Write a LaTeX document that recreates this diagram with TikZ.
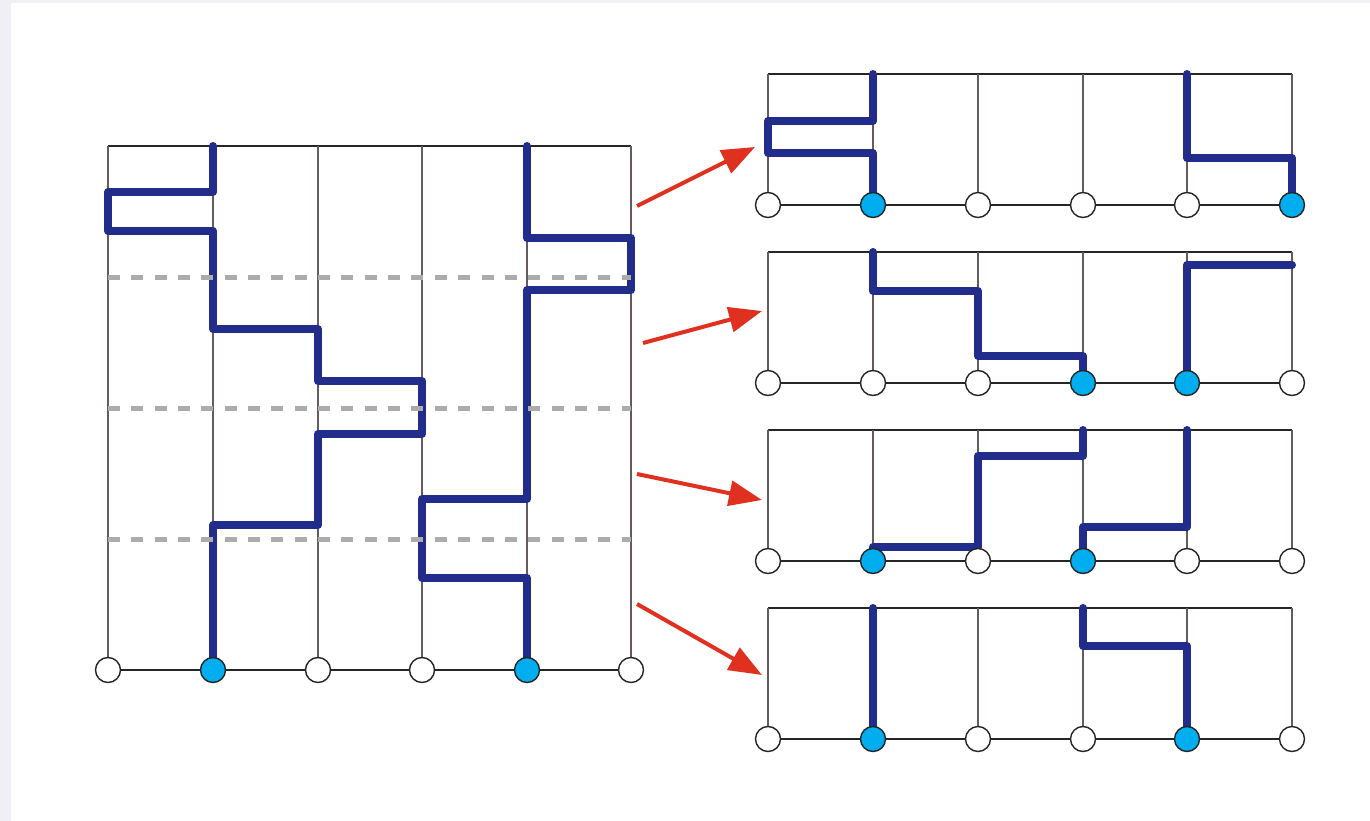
\documentclass[tikz,border=0pt]{standalone}
\usetikzlibrary{arrows.meta}
\definecolor{pathblue}{RGB}{33,44,139}
\definecolor{dotcyan}{RGB}{0,174,239}
\definecolor{arrowred}{RGB}{224,48,32}
\definecolor{rimgrey}{RGB}{239,239,245}
\definecolor{gridgrey}{RGB}{100,92,92}
\pgfdeclarelayer{background}
\pgfsetlayers{background,main}
\tikzset{
    site/.style = {circle, draw=black!85, line width=0.8pt, minimum size=0.5cm, inner sep=0pt, fill=white},
    siteb/.style = {site, fill=dotcyan},
    gridv/.style = {gridgrey, line width=0.7pt},
    gridh/.style = {black!85, line width=0.7pt},
    cut/.style = {gray!65, line width=0.1cm, dash pattern=on 0.24cm off 0.227cm},
    route/.style = {pathblue, line width=0.16cm, line cap=round, line join=round},
    jump/.style = {arrowred, line width=0.08cm, -{Triangle[length=0.66cm,width=0.5cm]}}
}

\begin{document}
\begin{tikzpicture}[x=0.02cm, y=-0.02cm]
%
\useasboundingbox (0,0) rectangle (1370,821);
%
\node[site]  at (108,670) (l0) {};
\node[siteb] at (213,670) (l1) {};
\node[site]  at (318,670) (l2) {};
\node[site]  at (422,670) (l3) {};
\node[siteb] at (527,670) (l4) {};
\node[site]  at (631,670) (l5) {};
%
\node[site]  at (768,205) (a0) {};
\node[siteb] at (873,205) (a1) {};
\node[site]  at (978,205) (a2) {};
\node[site]  at (1083,205) (a3) {};
\node[site]  at (1187,205) (a4) {};
\node[siteb] at (1292,205) (a5) {};
%
\node[site]  at (768,383) (b0) {};
\node[site]  at (873,383) (b1) {};
\node[site]  at (978,383) (b2) {};
\node[siteb] at (1083,383) (b3) {};
\node[siteb] at (1187,383) (b4) {};
\node[site]  at (1292,383) (b5) {};
%
\node[site]  at (768,561) (c0) {};
\node[siteb] at (873,561) (c1) {};
\node[site]  at (978,561) (c2) {};
\node[siteb] at (1083,561) (c3) {};
\node[site]  at (1187,561) (c4) {};
\node[site]  at (1292,561) (c5) {};
%
\node[site]  at (768,739) (d0) {};
\node[siteb] at (873,739) (d1) {};
\node[site]  at (978,739) (d2) {};
\node[site]  at (1083,739) (d3) {};
\node[siteb] at (1187,739) (d4) {};
\node[site]  at (1292,739) (d5) {};
%
\begin{pgfonlayer}{background}
\fill[rimgrey] (0,0) rectangle (1370,821);
\fill[white] (11,3) rectangle (1370,821);
% big lattice
\draw[gridh] (108,146) -- (631,146);
\draw[gridh] (l0) -- (l5);
\foreach \x in {108,213,318,422,527,631}
    \draw[gridv] (\x,146) -- (\x,670);
% small lattices
\foreach \y in {74,252,430,608} {
    \draw[gridh] (768,\y) -- (1292,\y);
    \draw[gridh] (768,\y+131) -- (1292,\y+131);
    \foreach \x in {768,873,978,1083,1187,1292}
        \draw[gridv] (\x,\y) -- (\x,\y+131);
}
% world lines, whole lattice
\draw[route] (213,146) -- (213,192) -- (108,192) -- (108,231) -- (213,231) -- (213,329)
    -- (318,329) -- (318,381) -- (422,381) -- (422,434) -- (318,434) -- (318,525)
    -- (213,525) -- (l1.center);
\draw[route] (527,146) -- (527,238) -- (631,238) -- (631,290) -- (527,290) -- (527,499)
    -- (422,499) -- (422,578) -- (527,578) -- (l4.center);
% world lines, slices
\draw[route] (873,74) -- (873,121) -- (768,121) -- (768,153) -- (873,153) -- (a1.center);
\draw[route] (1187,74) -- (1187,158) -- (1292,158) -- (a5.center);
\draw[route] (873,252) -- (873,291) -- (978,291) -- (978,356) -- (1083,356) -- (b3.center);
\draw[route] (b4.center) -- (1187,265) -- (1292,265);
\draw[route] (1083,430) -- (1083,456) -- (978,456) -- (978,547) -- (873,547) -- (c1.center);
\draw[route] (1187,430) -- (1187,527) -- (1083,527) -- (c3.center);
\draw[route] (873,608) -- (d1.center);
\draw[route] (1083,608) -- (1083,646) -- (1187,646) -- (d4.center);
% cuts
\foreach \y in {277,408,539}
    \draw[cut] (108,\y) -- (631,\y);
\end{pgfonlayer}
%
\coordinate (s1) at (637,206);  \coordinate (t1) at (755,147);
\coordinate (s2) at (643,343);  \coordinate (t2) at (762,311);
\coordinate (s3) at (637,474);  \coordinate (t3) at (762,500);
\coordinate (s4) at (637,604);  \coordinate (t4) at (762,675);
\draw[jump] (s1) -- (t1);
\draw[jump] (s2) -- (t2);
\draw[jump] (s3) -- (t3);
\draw[jump] (s4) -- (t4);
\end{tikzpicture}
\end{document}
